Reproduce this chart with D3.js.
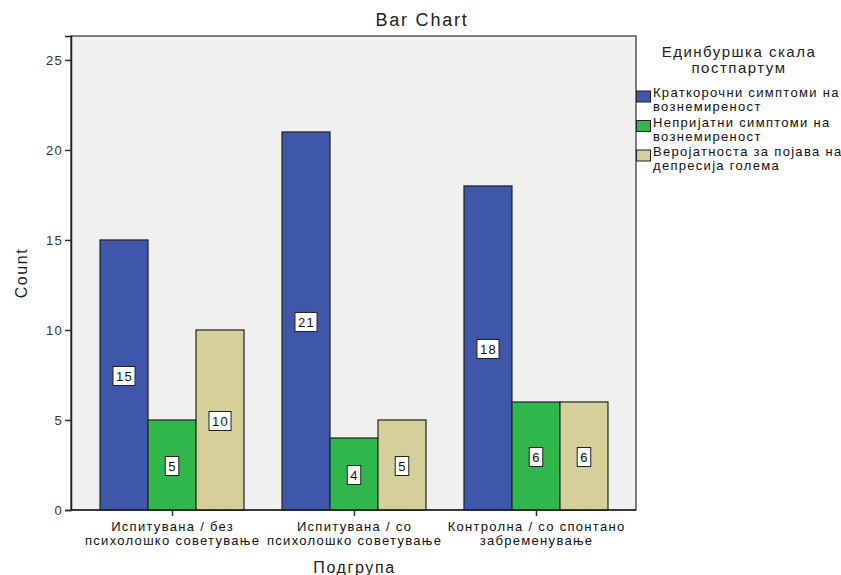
<!DOCTYPE html>
<html>
<head>
<meta charset="utf-8">
<script src="https://cdn.jsdelivr.net/npm/d3@7"></script>
<style>
  body { margin: 0; background: #fff; }
  svg { display: block; font-family: "Liberation Sans", Arial, sans-serif; }
  svg text { letter-spacing: 0.1em; }
</style>
</head>
<body>
<svg id="chart" width="841" height="575"></svg>
<script>
const categories = [
  ["Испитувана / без", "психолошко советување"],
  ["Испитувана / со", "психолошко советување"],
  ["Контролна / со спонтано", "забременување"]
];
const seriesNames = [
  ["Краткорочни симптоми на", "вознемиреност"],
  ["Непријатни симптоми на", "вознемиреност"],
  ["Веројатноста за појава на", "депресија голема"]
];
const seriesColors = ["#3e57aa", "#2fb74c", "#d5cf99"];
const values = [
  [15, 5, 10],
  [21, 4, 5],
  [18, 6, 6]
];
const yTicks = [0, 5, 10, 15, 20, 25];
const legendTitle = ["Единбуршка скала", "постпартум"];

const svg = d3.select("#chart");
const plot = { left: 71, right: 636, top: 36, bottom: 510 };

svg.append("rect").attr("x", plot.left).attr("y", plot.top)
  .attr("width", plot.right - plot.left).attr("height", plot.bottom - plot.top)
  .attr("fill", "#f0f0f0").attr("stroke", "#555").attr("stroke-width", 1.5);

const x0 = d3.scaleBand().domain(d3.range(categories.length))
  .range([plot.left + 1, plot.right]).paddingInner(0.2088).paddingOuter(0.154);
const x1 = d3.scaleBand().domain(d3.range(seriesNames.length))
  .range([0, x0.bandwidth()]);
const y = d3.scaleLinear().domain([0, 26.33]).range([plot.bottom, plot.top]);

// bars
const groups = svg.selectAll(".grp").data(values).enter().append("g")
  .attr("transform", (d, i) => `translate(${x0(i)},0)`);
groups.selectAll("rect").data(d => d).enter().append("rect")
  .attr("x", (d, j) => x1(j))
  .attr("y", d => y(d))
  .attr("width", x1.bandwidth())
  .attr("height", d => y(0) - y(d))
  .attr("fill", (d, j) => seriesColors[j])
  .attr("stroke", "#222").attr("stroke-width", 1.2);

// value labels
groups.selectAll("g.lab").data(d => d).enter().append("g")
  .each(function(d, j) {
    const g = d3.select(this);
    const cx = x1(j) + x1.bandwidth() / 2;
    const cy = (y(d) + y(0)) / 2 + 1;
    const t = g.append("text").attr("x", cx + 0.6).attr("y", cy + 5)
      .attr("text-anchor", "middle").attr("font-size", 13).attr("fill", "#111").text(d);
    const w = t.node().getComputedTextLength() + 5;
    g.insert("rect", "text").attr("x", cx - w / 2).attr("y", cy - 9.5)
      .attr("width", w).attr("height", 19).attr("fill", "#fff")
      .attr("stroke", "#222").attr("stroke-width", 1);
  });

// axes
const yAxis = d3.axisLeft(y).tickValues(yTicks).tickSize(6).tickPadding(2);
const ya = svg.append("g").attr("transform", `translate(${plot.left},0)`).call(yAxis);
ya.select(".domain").attr("stroke", "#222").attr("stroke-width", 1.5);
ya.selectAll(".tick line").attr("stroke", "#333").attr("stroke-width", 1.5);
ya.selectAll(".tick text").attr("font-size", 13).attr("fill", "#333")
  .attr("font-family", "Liberation Sans, Arial, sans-serif");

const xAxis = d3.axisBottom(d3.scalePoint().domain(d3.range(categories.length))
  .range([x0(0) + x0.bandwidth() / 2, x0(2) + x0.bandwidth() / 2])).tickSize(6).tickFormat("");
const xa = svg.append("g").attr("transform", `translate(0,${plot.bottom})`).call(xAxis);
xa.select(".domain").remove();
xa.selectAll(".tick line").attr("stroke", "#333").attr("stroke-width", 1.5);
svg.append("line").attr("x1", plot.left).attr("x2", plot.right)
  .attr("y1", plot.bottom).attr("y2", plot.bottom).attr("stroke", "#222").attr("stroke-width", 1.5);

categories.forEach((lines, i) => {
  const cx = x0(i) + x0.bandwidth() / 2;
  lines.forEach((ln, k) => {
    svg.append("text").attr("x", cx + 0.6).attr("y", 531 + k * 14)
      .attr("text-anchor", "middle").attr("font-size", 13).attr("fill", "#111").text(ln);
  });
});

// titles
svg.append("text").attr("x", 422).attr("y", 26).attr("text-anchor", "middle")
  .attr("font-size", 18).attr("fill", "#222").text("Bar Chart");
svg.append("text").attr("transform", `translate(27,${(plot.top + plot.bottom) / 2}) rotate(-90)`)
  .attr("text-anchor", "middle").attr("font-size", 16).attr("fill", "#222").text("Count");
svg.append("text").attr("x", (plot.left + plot.right) / 2 + 1).attr("y", 573)
  .attr("text-anchor", "middle").attr("font-size", 16).attr("fill", "#222").text("Подгрупа");

// legend
legendTitle.forEach((ln, k) => {
  svg.append("text").attr("x", 739).attr("y", 57 + k * 16).attr("text-anchor", "middle")
    .attr("font-size", 15).attr("fill", "#222").text(ln);
});
seriesNames.forEach((lines, i) => {
  const top = 91 + i * 29.5;
  svg.append("rect").attr("x", 636.5).attr("y", top).attr("width", 14).attr("height", 11)
    .attr("fill", seriesColors[i]).attr("stroke", "#222").attr("stroke-width", 1);
  lines.forEach((ln, k) => {
    svg.append("text").attr("x", 653).attr("y", top + 6 + k * 14)
      .attr("font-size", 13).attr("fill", "#111").text(ln);
  });
});
</script>
</body>
</html>
